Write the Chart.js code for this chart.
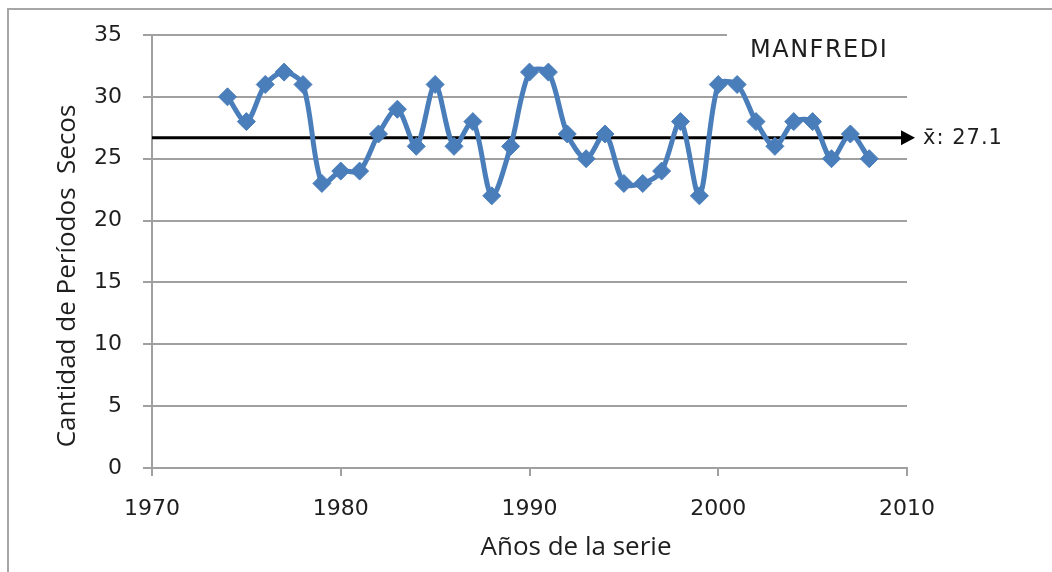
<!DOCTYPE html>
<html>
<head>
<meta charset="utf-8">
<script src="https://cdn.jsdelivr.net/npm/chart.js@4.4.1/dist/chart.umd.min.js"></script>
<style>
html,body{margin:0;padding:0;background:#fff;}
#wrap{width:1052px;height:572px;position:relative;}
</style>
</head>
<body>
<div id="wrap"><canvas id="c" width="1052" height="572"></canvas></div>
<script>
// ---- data ----
const years = [1974,1975,1976,1977,1978,1979,1980,1981,1982,1983,1984,1985,1986,1987,1988,1989,1990,1991,1992,1993,1994,1995,1996,1997,1998,1999,2000,2001,2002,2003,2004,2005,2006,2007,2008];
const dryPeriods = [30,28,31,32,31,23,24,24,27,29,26,31,26,28,22,26,32,32,27,25,27,23,23,24,28,22,31,31,28,26,28,28,25,27,25];
const xTickValues = [1970,1980,1990,2000,2010];
const yTickValues = [0,5,10,15,20,25,30,35];
const meanValue = 27.1;      // value shown in the label
const meanLineLevel = 26.7;  // level at which the mean arrow is drawn in the picture
const chartTitle = 'MANFREDI';
const xTitle = 'Años de la serie';
const yTitle = 'Cantidad de Períodos  Secos';
const meanText = 'x\u0304: ' + meanValue.toFixed(1);

const BLUE = '#4a7ebb';
const GRID = '#a0a0a0';
const TEXT = '#1e1e1e';

const deco = {
  id: 'deco',
  beforeDraw(chart) {
    const c = chart.ctx;
    c.save();
    c.fillStyle = '#fff';
    c.fillRect(0, 0, chart.width, chart.height);
    c.strokeStyle = '#a6a6a6';
    c.lineWidth = 2;
    c.beginPath();
    c.moveTo(8, chart.height);
    c.lineTo(8, 9);
    c.lineTo(chart.width, 9);
    c.stroke();
    c.restore();
  },
  beforeDatasetsDraw(chart) {
    const c = chart.ctx;
    const a = chart.chartArea;
    const ys = chart.scales.y;
    c.save();
    // title box (hides the top gridline behind the title)
    c.fillStyle = '#fff';
    c.fillRect(a.right - 180, a.top - 7, 190, 36);
    // mean line with arrow
    const y = ys.getPixelForValue(meanLineLevel);
    const tip = a.right + 8;
    c.strokeStyle = '#000';
    c.lineWidth = 3;
    c.beginPath();
    c.moveTo(a.left, y);
    c.lineTo(tip - 10, y);
    c.stroke();
    c.fillStyle = '#000';
    c.beginPath();
    c.moveTo(tip, y);
    c.lineTo(tip - 14, y - 7.5);
    c.lineTo(tip - 14, y + 7.5);
    c.closePath();
    c.fill();
    c.restore();
  },
  afterDraw(chart) {
    const c = chart.ctx;
    const a = chart.chartArea;
    const ys = chart.scales.y;
    c.save();
    c.fillStyle = TEXT;
    // chart title
    c.font = '24px "DejaVu Sans"';
    c.letterSpacing = '1.5px';
    c.textAlign = 'left';
    c.textBaseline = 'middle';
    c.fillText(chartTitle, 750, 51);
    // mean label
    c.font = '21px "DejaVu Sans"';
    c.letterSpacing = '1px';
    c.fillText(meanText, a.right + 16, ys.getPixelForValue(meanLineLevel) + 1);
    c.letterSpacing = '0px';
    // x title
    c.font = '26px "Open Sans"';
    c.textAlign = 'center';
    c.fillText(xTitle, 576, 548);
    // y title
    c.translate(68, 276);
    c.rotate(-Math.PI / 2);
    c.fillText(yTitle, 0, 0);
    c.restore();
  }
};

new Chart(document.getElementById('c'), {
  type: 'line',
  data: {
    datasets: [{
      data: years.map((yr, i) => ({ x: yr, y: dryPeriods[i] })),
      borderColor: BLUE,
      backgroundColor: BLUE,
      borderWidth: 5,
      pointStyle: 'rectRot',
      pointRadius: 9,
      pointBorderWidth: 1,
      pointBorderColor: BLUE,
      pointBackgroundColor: BLUE,
      tension: 0.3,
      clip: false
    }]
  },
  options: {
    responsive: false,
    animation: false,
    devicePixelRatio: 1,
    layout: { padding: { top: 35, right: 145, left: 0, bottom: 0 } },
    plugins: { legend: { display: false }, tooltip: { enabled: false } },
    scales: {
      x: {
        type: 'linear',
        min: 1970,
        max: 2010,
        afterBuildTicks: s => { s.ticks = xTickValues.map(v => ({ value: v })); },
        afterFit: s => { s.height = 104; },
        grid: { drawOnChartArea: false, drawTicks: true, tickLength: 8, color: GRID, lineWidth: 2 },
        border: { color: GRID, width: 2 },
        ticks: {
          font: { family: 'DejaVu Sans', size: 22 },
          color: TEXT,
          padding: 20,
          maxRotation: 0,
          autoSkip: false,
          callback: v => String(v)
        }
      },
      y: {
        min: 0,
        max: 35,
        afterBuildTicks: s => { s.ticks = yTickValues.map(v => ({ value: v })); },
        afterFit: s => { s.width = 152; },
        grid: { color: GRID, lineWidth: 2, drawTicks: true, tickLength: 9 },
        border: { color: GRID, width: 2 },
        ticks: {
          font: { family: 'DejaVu Sans', size: 22 },
          color: TEXT,
          padding: 21,
          callback: v => String(v)
        }
      }
    }
  },
  plugins: [deco]
});
</script>
</body>
</html>
